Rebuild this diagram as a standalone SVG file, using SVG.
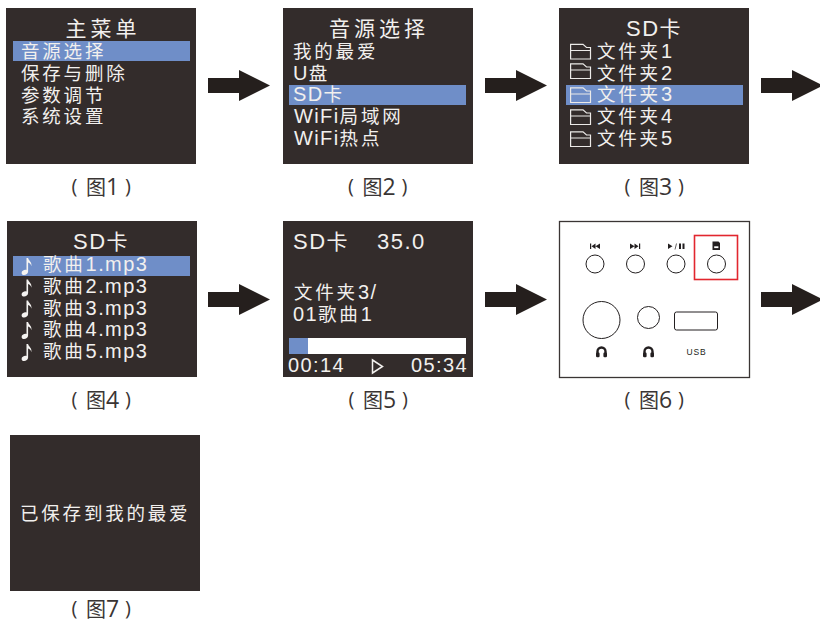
<svg xmlns="http://www.w3.org/2000/svg" width="820" height="623" viewBox="0 0 820 623">
<style>
text{font-family:"Liberation Sans","Noto Sans CJK SC",sans-serif;}
.s{fill:#332c2b}
.h{fill:#6f8ec8}
.t{fill:#f2f0ee;font-size:18.500px;letter-spacing:2.800px}
.n{font-size:20px;letter-spacing:1.400px}
.c{font-size:21px;letter-spacing:4px}
.m{font-size:22px;letter-spacing:1.500px}
.cap{fill:#3a3534;font-size:20px;font-family:"Open Sans","Noto Sans CJK SC",sans-serif}
.d{font-size:23px}
.f{fill:none;stroke:#eceae8;stroke-width:1.200}
.a{fill:#251f1d}
.l{fill:none;stroke:#231f20;stroke-width:1}
.g{fill:#231f20}
</style>
<defs>
<path id="arrow" class="a" d="M0 8H31V0L62 15.500L31 31V23H0Z"/>
<path id="folder" class="f" d="M0.600 15.500V0.800H13L16.500 4H20.500V15.500ZM0.600 7H20.500"/>
<path id="note" fill="#f5f3f1" d="M5.500 0h1.600c0.400 2.700 4 3.600 3.300 8.200c-0.500-2.300-1.800-3.300-3.300-3.800v9.200c0 2.200-2.100 3.400-4 3.400c-1.600 0-2.500-0.900-2.500-2.100c0-1.800 2-3.100 3.900-3.100c0.400 0 0.800 0.100 1 0.200z"/>
<g id="phones"><path fill="none" stroke="#231f20" stroke-width="2.400" d="M-4 3V-0.500A4 4 0 0 1 4 -0.500V3"/><rect class="g" x="-5.500" y="0.500" width="3.600" height="4.800" rx="1.200"/><rect class="g" x="1.900" y="0.500" width="3.600" height="4.800" rx="1.200"/></g>
</defs>

<g id="connectors">
<use href="#arrow" x="208" y="70"/>
<use href="#arrow" x="485" y="70"/>
<use href="#arrow" x="761" y="70"/>
<use href="#arrow" x="208" y="284"/>
<use href="#arrow" x="485" y="284"/>
<use href="#arrow" x="761" y="284"/>
</g>

<g id="fig1">
<rect class="s" x="6" y="8" width="190" height="156"/>
<rect class="h" x="13" y="41" width="177" height="20"/>
<text class="t c" x="65.500" y="36">主菜单</text>
<text class="t" x="21" y="58">音源选择</text>
<text class="t" x="21" y="80">保存与删除</text>
<text class="t" x="21" y="102">参数调节</text>
<text class="t" x="21" y="123">系统设置</text>
<text class="cap" transform="translate(101 195)"><tspan x="-29.500" y="-2">(</tspan><tspan x="-15" y="0">图</tspan><tspan class="d" x="5">1</tspan><tspan x="24" y="-2">)</tspan></text>
</g>

<g id="fig2">
<rect class="s" x="283" y="8" width="190" height="156"/>
<rect class="h" x="289" y="85" width="177" height="20"/>
<text class="t c" x="329" y="36">音源选择</text>
<text class="t" x="293" y="58">我的最爱</text>
<text class="t" x="293" y="80"><tspan class="n">U</tspan>盘</text>
<text class="t" x="293" y="101"><tspan class="n">SD</tspan>卡</text>
<text class="t" x="294" y="123"><tspan class="n">WiFi</tspan>局域网</text>
<text class="t" x="294" y="145"><tspan class="n">WiFi</tspan>热点</text>
<text class="cap" transform="translate(377.500 195)"><tspan x="-29.500" y="-2">(</tspan><tspan x="-15" y="0">图</tspan><tspan class="d" x="5">2</tspan><tspan x="24" y="-2">)</tspan></text>
</g>

<g id="fig3">
<rect class="s" x="559" y="8" width="190" height="156"/>
<rect class="h" x="566" y="85" width="177" height="20"/>
<text class="t c" x="626" y="36"><tspan class="m">SD</tspan>卡</text>
<use href="#folder" x="570" y="43.500"/>
<use href="#folder" x="570" y="63"/>
<use href="#folder" x="570" y="87"/>
<use href="#folder" x="570" y="109"/>
<use href="#folder" x="570" y="131"/>
<text class="t" x="597" y="58">文件夹<tspan class="n">1</tspan></text>
<text class="t" x="597" y="80">文件夹<tspan class="n">2</tspan></text>
<text class="t" x="597" y="101">文件夹<tspan class="n">3</tspan></text>
<text class="t" x="597" y="123">文件夹<tspan class="n">4</tspan></text>
<text class="t" x="597" y="145">文件夹<tspan class="n">5</tspan></text>
<text class="cap" transform="translate(654 195)"><tspan x="-29.500" y="-2">(</tspan><tspan x="-15" y="0">图</tspan><tspan class="d" x="5">3</tspan><tspan x="24" y="-2">)</tspan></text>
</g>

<g id="fig4">
<rect class="s" x="7" y="221" width="190" height="156"/>
<rect class="h" x="13" y="256" width="177" height="20"/>
<text class="t c" x="73" y="249"><tspan class="m">SD</tspan>卡</text>
<use href="#note" x="21" y="258"/>
<use href="#note" x="21" y="279.500"/>
<use href="#note" x="21" y="300.500"/>
<use href="#note" x="21" y="322"/>
<use href="#note" x="21" y="344"/>
<text class="t" x="43" y="271">歌曲<tspan class="n">1.mp3</tspan></text>
<text class="t" x="43" y="293">歌曲<tspan class="n">2.mp3</tspan></text>
<text class="t" x="43" y="315">歌曲<tspan class="n">3.mp3</tspan></text>
<text class="t" x="43" y="336">歌曲<tspan class="n">4.mp3</tspan></text>
<text class="t" x="43" y="358">歌曲<tspan class="n">5.mp3</tspan></text>
<text class="cap" transform="translate(101 408)"><tspan x="-29.500" y="-2">(</tspan><tspan x="-15" y="0">图</tspan><tspan class="d" x="5">4</tspan><tspan x="24" y="-2">)</tspan></text>
</g>

<g id="fig5">
<rect class="s" x="283" y="221" width="190" height="156"/>
<rect x="289" y="338" width="177" height="16" fill="#fff"/>
<rect class="h" x="289" y="338" width="19" height="16"/>
<text class="t" x="293" y="249"><tspan class="m">SD</tspan><tspan font-size="21">卡</tspan></text>
<text class="t m" x="377" y="249">35.0</text>
<text class="t" x="294" y="299">文件夹<tspan class="n">3/</tspan></text>
<text class="t" x="293" y="321"><tspan class="n">01</tspan>歌曲<tspan class="n">1</tspan></text>
<text class="t n" x="288" y="372">00:14</text>
<path d="M372.500 360L382.500 366.500L372.500 373Z" fill="none" stroke="#f2f0ee" stroke-width="1.500"/>
<text class="t n" x="411" y="372">05:34</text>
<text class="cap" transform="translate(378 408)"><tspan x="-29.500" y="-2">(</tspan><tspan x="-15" y="0">图</tspan><tspan class="d" x="5">5</tspan><tspan x="24" y="-2">)</tspan></text>
</g>

<g id="fig6">
<rect x="559.500" y="221.500" width="190" height="156" fill="#fff" stroke="#3a3534" stroke-width="1.300"/>
<rect x="694.500" y="235.500" width="43" height="44" fill="none" stroke="#e2262e" stroke-width="1.600"/>
<circle class="l" cx="595" cy="264" r="9"/>
<circle class="l" cx="635.500" cy="264" r="9"/>
<circle class="l" cx="676" cy="264" r="9"/>
<circle class="l" cx="716.500" cy="264" r="9"/>
<circle class="l" cx="601.500" cy="320" r="18.500"/>
<circle class="l" cx="648.500" cy="317.500" r="11"/>
<rect class="l" x="674.500" y="312" width="43" height="18" rx="2"/>
<path class="g" d="M590 243.500h1.200v5.500h-1.200zM595.500 243.500v5.500l-4-2.750zM600 243.500v5.500l-4.500-2.750z"/>
<path class="g" d="M630 243.500v5.500l4.500-2.750zM634.500 243.500v5.500l4-2.750zM639 243.500h1.200v5.500h-1.200z"/>
<path class="g" d="M668 243.500v5.500l4.500-2.750z"/>
<path fill="none" stroke="#231f20" stroke-width="0.700" d="M675 249.500l1.500-6"/>
<path class="g" d="M679 243.500h2v5.500h-2zM682.500 243.500h2v5.500h-2z"/>
<path class="g" d="M712.500 241.500h6l1.500 1.500v7h-7.500z"/>
<rect x="714.200" y="246.300" width="4.200" height="1.800" fill="#fff"/>
<use href="#phones" x="601.500" y="352"/>
<use href="#phones" x="648.500" y="352"/>
<text x="696.500" y="355" font-size="8.500" letter-spacing="0.800" text-anchor="middle" fill="#231f20">USB</text>
<text class="cap" transform="translate(654 408)"><tspan x="-29.500" y="-2">(</tspan><tspan x="-15" y="0">图</tspan><tspan class="d" x="5">6</tspan><tspan x="24" y="-2">)</tspan></text>
</g>

<g id="fig7">
<rect class="s" x="10" y="435" width="190" height="156"/>
<text class="t" x="20" y="520">已保存到我的最爱</text>
<text class="cap" transform="translate(101 617)"><tspan x="-29.500" y="-2">(</tspan><tspan x="-15" y="0">图</tspan><tspan class="d" x="5">7</tspan><tspan x="24" y="-2">)</tspan></text>
</g>
</svg>
